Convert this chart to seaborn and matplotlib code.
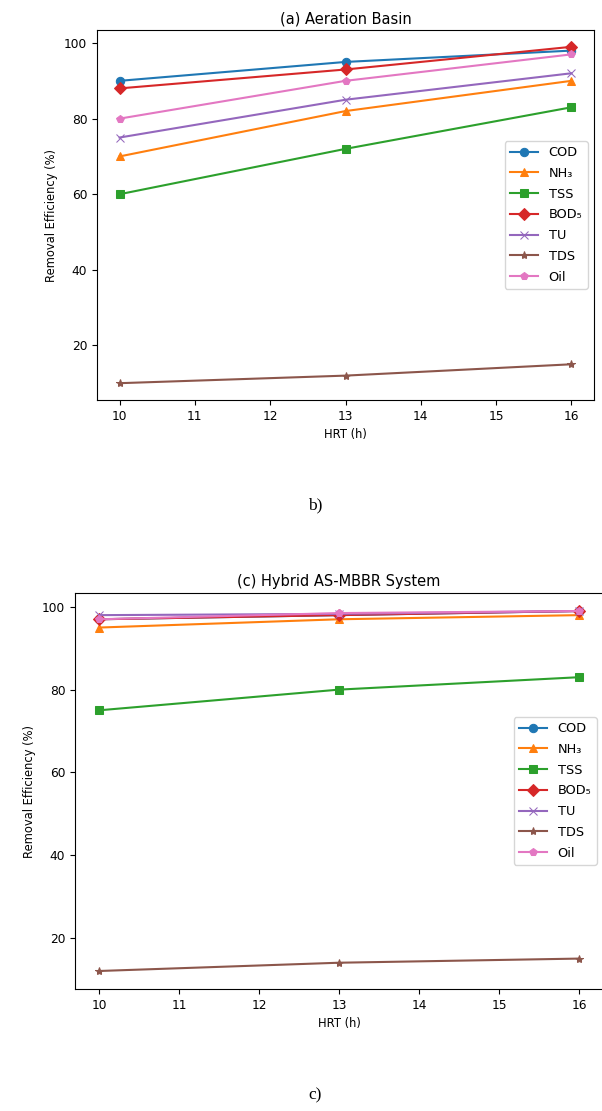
import matplotlib
matplotlib.use("Agg")
import matplotlib.pyplot as plt
import seaborn as sns
import pandas as pd

hrt = [10, 13, 16]
params = ["COD", "NH₃", "TSS", "BOD₅", "TU", "TDS", "Oil"]

# (a) Aeration Basin
aer_cod = [90, 95, 98]
aer_nh3 = [70, 82, 90]
aer_tss = [60, 72, 83]
aer_bod = [88, 93, 99]
aer_tu = [75, 85, 92]
aer_tds = [10, 12, 15]
aer_oil = [80, 90, 97]

# (c) Hybrid AS-MBBR System
hyb_cod = [97, 98, 99]
hyb_nh3 = [95, 97, 98]
hyb_tss = [75, 80, 83]
hyb_bod = [97, 98, 99]
hyb_tu = [98, 98.3, 99]
hyb_tds = [12, 14, 15]
hyb_oil = [97, 98.5, 99]

markers = ["o", "^", "s", "D", "x", "*", "p"]
colors = sns.color_palette("tab10", 7)


def make_df(series):
    rows = []
    for name, vals in zip(params, series):
        for x, v in zip(hrt, vals):
            rows.append({"HRT": x, "eff": v, "param": name})
    return pd.DataFrame(rows)


fig = plt.figure(figsize=(6.02, 11.11), dpi=100)

ax1 = fig.add_axes([97 / 602, 1 - 400 / 1111, 497 / 602, 370 / 1111])
ax2 = fig.add_axes([75 / 602, 1 - 989 / 1111, 528 / 602, 396 / 1111])

panels = [
    (ax1, [aer_cod, aer_nh3, aer_tss, aer_bod, aer_tu, aer_tds, aer_oil], "(a) Aeration Basin"),
    (ax2, [hyb_cod, hyb_nh3, hyb_tss, hyb_bod, hyb_tu, hyb_tds, hyb_oil], "(c) Hybrid AS-MBBR System"),
]

for ax, series, title in panels:
    df = make_df(series)
    for i, name in enumerate(params):
        sub = df[df["param"] == name]
        sns.lineplot(data=sub, x="HRT", y="eff", ax=ax, color=colors[i],
                     marker=markers[i], markersize=6, linewidth=1.5,
                     markeredgecolor=colors[i], label=name, legend=False)
    ax.set_title(title, fontsize=10.5, pad=5)
    ax.set_xlabel("HRT (h)", fontsize=8.3)
    ax.set_ylabel("Removal Efficiency (%)", fontsize=8.3)
    ax.tick_params(labelsize=8.8)
    ax.set_xticks([10, 11, 12, 13, 14, 15, 16])
    ax.set_yticks([20, 40, 60, 80, 100])
    ax.legend(handles=list(ax.lines[:7]), labels=params, loc="center right",
              fontsize=9.3, frameon=True, handlelength=2.2, labelspacing=0.6)

fig.text(315 / 602, 1 - 505 / 1111, "b)", ha="center", va="center",
         fontsize=12.5, family="Liberation Serif")
fig.text(315 / 602, 1 - 1095 / 1111, "c)", ha="center", va="center",
         fontsize=12.5, family="Liberation Serif")

fig.savefig("out.png", dpi=100)
